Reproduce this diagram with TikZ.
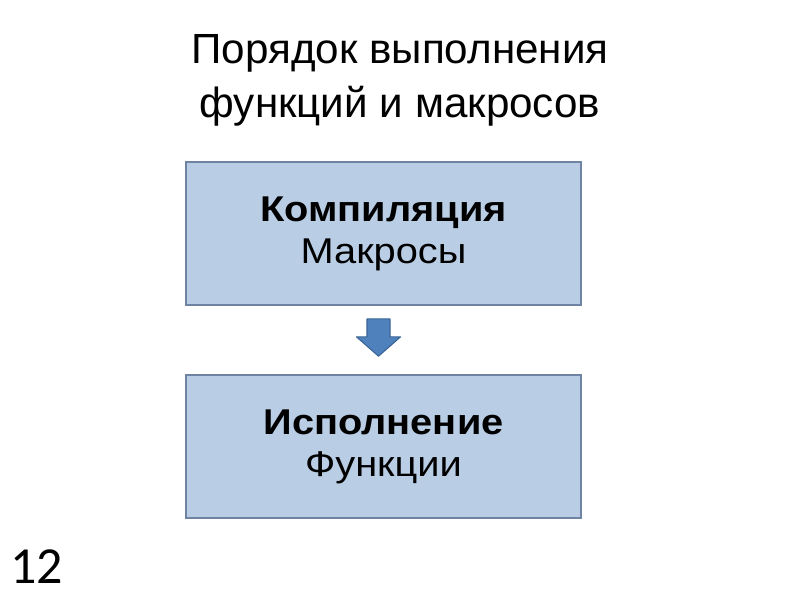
\documentclass[tikz,border=0pt]{standalone}
\usepackage{fontspec}
\setmainfont{Liberation Sans}
\newfontfamily\stagefont[FakeStretch=1.11]{Liberation Sans}
\newfontfamily\numfont{Carlito}
\usetikzlibrary{calc}

\definecolor{boxfill}{HTML}{B9CDE5}
\definecolor{boxline}{HTML}{6F84A2}
\definecolor{arrfill}{HTML}{4F81BD}
\definecolor{arrline}{HTML}{3A6595}

\begin{document}
\begin{tikzpicture}[
    % Stage box: light blue rectangle
    stage/.style={
        rectangle, draw=boxline, fill=boxfill, line width=1.2pt,
        minimum width=9.875cm, minimum height=3.575cm,
        align=center, font=\stagefont\fontsize{25.5}{30}\selectfont
    },
    % Block arrow between stages
    blockarrow/.style={
        draw=arrline, fill=arrfill, line width=0.8pt, line join=round
    },
    % Slide title
    title/.style={
        align=center, font=\fontsize{30}{38}\selectfont,
        inner sep=0pt
    },
]

% Page frame
\useasboundingbox (0, 0) rectangle (20, -15);

% ============================================================
% TITLE
% ============================================================
\node[title, anchor=base] (title) at (10, -2.925)
    {Порядок выполнения\\функций и макросов};

% ============================================================
% STAGES
% ============================================================
\node[stage] (compile) at (9.5875, -5.8375)
    {\textbf{Компиляция}\\Макросы};
\node[stage] (run) at (9.5875, -11.1625)
    {\textbf{Исполнение}\\Функции};

% ============================================================
% ARROW between stages
% ============================================================
\coordinate (atop) at ($(compile.south)+(-0.125, -0.325)$);
\coordinate (atip) at ($(run.north)+(-0.125, 0.45)$);
\draw[blockarrow]
    ($(atop)+(-0.2875, 0)$) -- ($(atop)+(0.2875, 0)$)
    -- ($(atop)+(0.2875, -0.45)$) -- ($(atop)+(0.55, -0.45)$)
    -- (atip)
    -- ($(atop)+(-0.55, -0.45)$) -- ($(atop)+(-0.2875, -0.45)$)
    -- cycle;

% Slide number
\node[anchor=base west, inner sep=0pt, font=\numfont\fontsize{37}{37}\selectfont]
    (num) at (0.25, -14.575) {12};

\end{tikzpicture}
\end{document}
